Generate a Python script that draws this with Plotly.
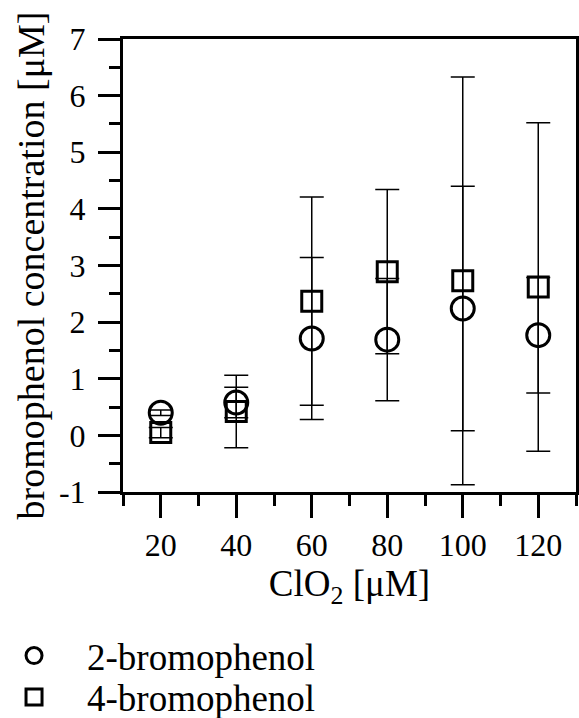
import plotly.graph_objects as go

clo2 = [20, 40, 60, 80, 100, 120]
bp2 = [0.40, 0.58, 1.71, 1.69, 2.24, 1.77]
bp2_err = [0.05, 0.27, 1.43, 1.08, 2.16, 1.02]
bp4 = [0.05, 0.42, 2.37, 2.89, 2.73, 2.62]
bp4_err = [0.09, 0.64, 1.84, 1.45, 3.60, 2.90]
y_tickvals = [-1, 0, 1, 2, 3, 4, 5, 6, 7]
y_ticktext = ["-1", "0", "1", "2", "3", "4", "5", "6", "7"]

FONT = "Liberation Serif"

fig = go.Figure()
fig.add_trace(go.Scatter(
    x=clo2, y=bp2, mode="markers", name="2-bromophenol", legend="legend",
    marker=dict(symbol="circle-open", size=23, color="black", line=dict(width=3, color="black")),
    error_y=dict(type="data", array=bp2_err, visible=True, color="black", thickness=1.5, width=12),
))
fig.add_trace(go.Scatter(
    x=clo2, y=bp4, mode="markers", name="4-bromophenol", legend="legend2",
    marker=dict(symbol="square-open", size=20, color="black", line=dict(width=3, color="black")),
    error_y=dict(type="data", array=bp4_err, visible=True, color="black", thickness=1.5, width=12),
))

axis_common = dict(
    showgrid=False, zeroline=False, showline=True, linecolor="black", linewidth=3,
    mirror=True, ticks="outside", tickcolor="black", tickwidth=3,
    tickfont=dict(family=FONT, size=32, color="black"),
)

fig.update_xaxes(
    range=[10, 130], tickvals=[20, 40, 60, 80, 100, 120], ticklen=23,
    minor=dict(tickvals=[10, 30, 50, 70, 90, 110, 130], ticklen=11, tickwidth=3, tickcolor="black", ticks="outside"),
    title=dict(text="ClO<sub>2</sub> [μM]", font=dict(family=FONT, size=37, color="black"), standoff=8),
    ticklabelstandoff=0,
    **axis_common,
)
fig.update_yaxes(
    range=[-1, 7], tickvals=y_tickvals, ticktext=y_ticktext, ticklen=22,
    minor=dict(dtick=0.5, ticklen=11, tickwidth=3, tickcolor="black", ticks="outside"),
    title=dict(text="bromophenol concentration [μM]", font=dict(family=FONT, size=38, color="black"), standoff=3),
    ticklabelstandoff=6,
    **axis_common,
)

legend_common = dict(
    xanchor="left", yanchor="top", x=-0.3134,
    font=dict(family=FONT, size=37, color="black"), itemwidth=96,
    bgcolor="rgba(0,0,0,0)", borderwidth=0,
)

fig.update_layout(
    width=579, height=718,
    margin=dict(l=123, r=3, t=39, b=226, autoexpand=False),
    paper_bgcolor="white", plot_bgcolor="white",
    showlegend=True,
    legend=dict(y=-0.2936, **legend_common),
    legend2=dict(y=-0.385, **legend_common),
)

fig.write_html("out.html")
